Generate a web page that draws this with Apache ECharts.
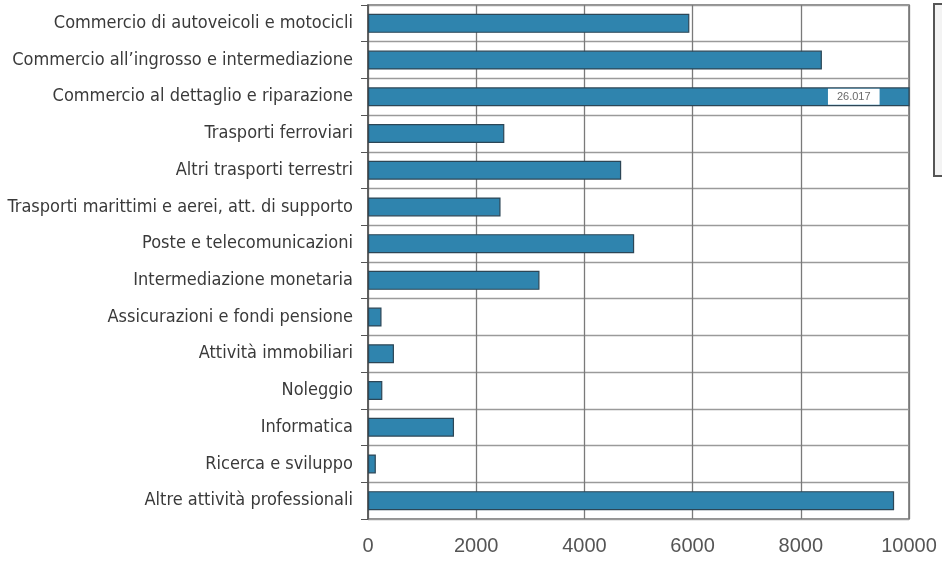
<!DOCTYPE html>
<html>
<head>
<meta charset="utf-8">
<script src="https://cdn.jsdelivr.net/npm/echarts@6/dist/echarts.min.js"></script>
<style>html,body{margin:0;padding:0;background:#fff;}#c{width:942px;height:563px;}</style>
</head>
<body>
<div id="c"></div>
<script>
const categories = [
  "Commercio di autoveicoli e motocicli",
  "Commercio all’ingrosso e intermediazione",
  "Commercio al dettaglio e riparazione",
  "Trasporti ferroviari",
  "Altri trasporti terrestri",
  "Trasporti marittimi e aerei, att. di supporto",
  "Poste e telecomunicazioni",
  "Intermediazione monetaria",
  "Assicurazioni e fondi pensione",
  "Attività immobiliari",
  "Noleggio",
  "Informatica",
  "Ricerca e sviluppo",
  "Altre attività professionali"
];
const values = [5940, 8390, 26017, 2520, 4680, 2450, 4920, 3170, 250, 480, 265, 1590, 145, 9725];
const xTicks = [0, 2000, 4000, 6000, 8000, 10000];
const axisMax = 10000;

const chart = echarts.init(document.getElementById('c'), null, {renderer: 'canvas'});
const data = values.map(v => {
  if (v > axisMax) {
    return {
      value: v,
      label: {
        show: true,
        position: 'insideRight',
        distance: 30,
        formatter: () => v.toLocaleString('it-IT'),
        backgroundColor: '#ffffff',
        color: '#6a6a6a',
        fontSize: 11,
        fontFamily: 'Liberation Sans',
        padding: [3, 9, 2, 9]
      }
    };
  }
  return v;
});

chart.setOption({
  animation: false,
  backgroundColor: '#ffffff',
  grid: {left: 368, right: 33, top: 5, bottom: 44, show: true, borderColor: '#6e6e6e', borderWidth: 1.5},
  xAxis: {
    type: 'value', min: 0, max: axisMax, interval: 2000,
    axisLine: {show: false}, axisTick: {show: false},
    axisLabel: {color: '#555', fontSize: 20, fontFamily: 'Liberation Sans', margin: 17,
      formatter: v => xTicks.includes(v) ? String(v) : ''},
    splitLine: {lineStyle: {color: '#7a7a7a', width: 1.3}}
  },
  yAxis: {
    type: 'category', data: categories, inverse: true,
    axisLine: {show: true, lineStyle: {color: '#555', width: 1.5}},
    axisTick: {show: true, length: 7, lineStyle: {color: '#555'}},
    axisLabel: {color: '#3a3a3a', fontSize: 18, fontFamily: '"DejaVu Sans Condensed", "DejaVu Sans", sans-serif', margin: 15},
    splitLine: {show: true, lineStyle: {color: '#9a9a9a', width: 1.3}}
  },
  series: [{
    type: 'bar', data: data, barWidth: 19, clip: true,
    itemStyle: {color: '#2f84ae', borderColor: '#2c4656', borderWidth: 1.2},
    label: {show: false}
  }],
  graphic: [{
    type: 'rect', left: 933, top: 3,
    shape: {width: 20, height: 172},
    style: {fill: '#f3f3f3', stroke: '#555', lineWidth: 2}
  }]
});
</script>
</body>
</html>
